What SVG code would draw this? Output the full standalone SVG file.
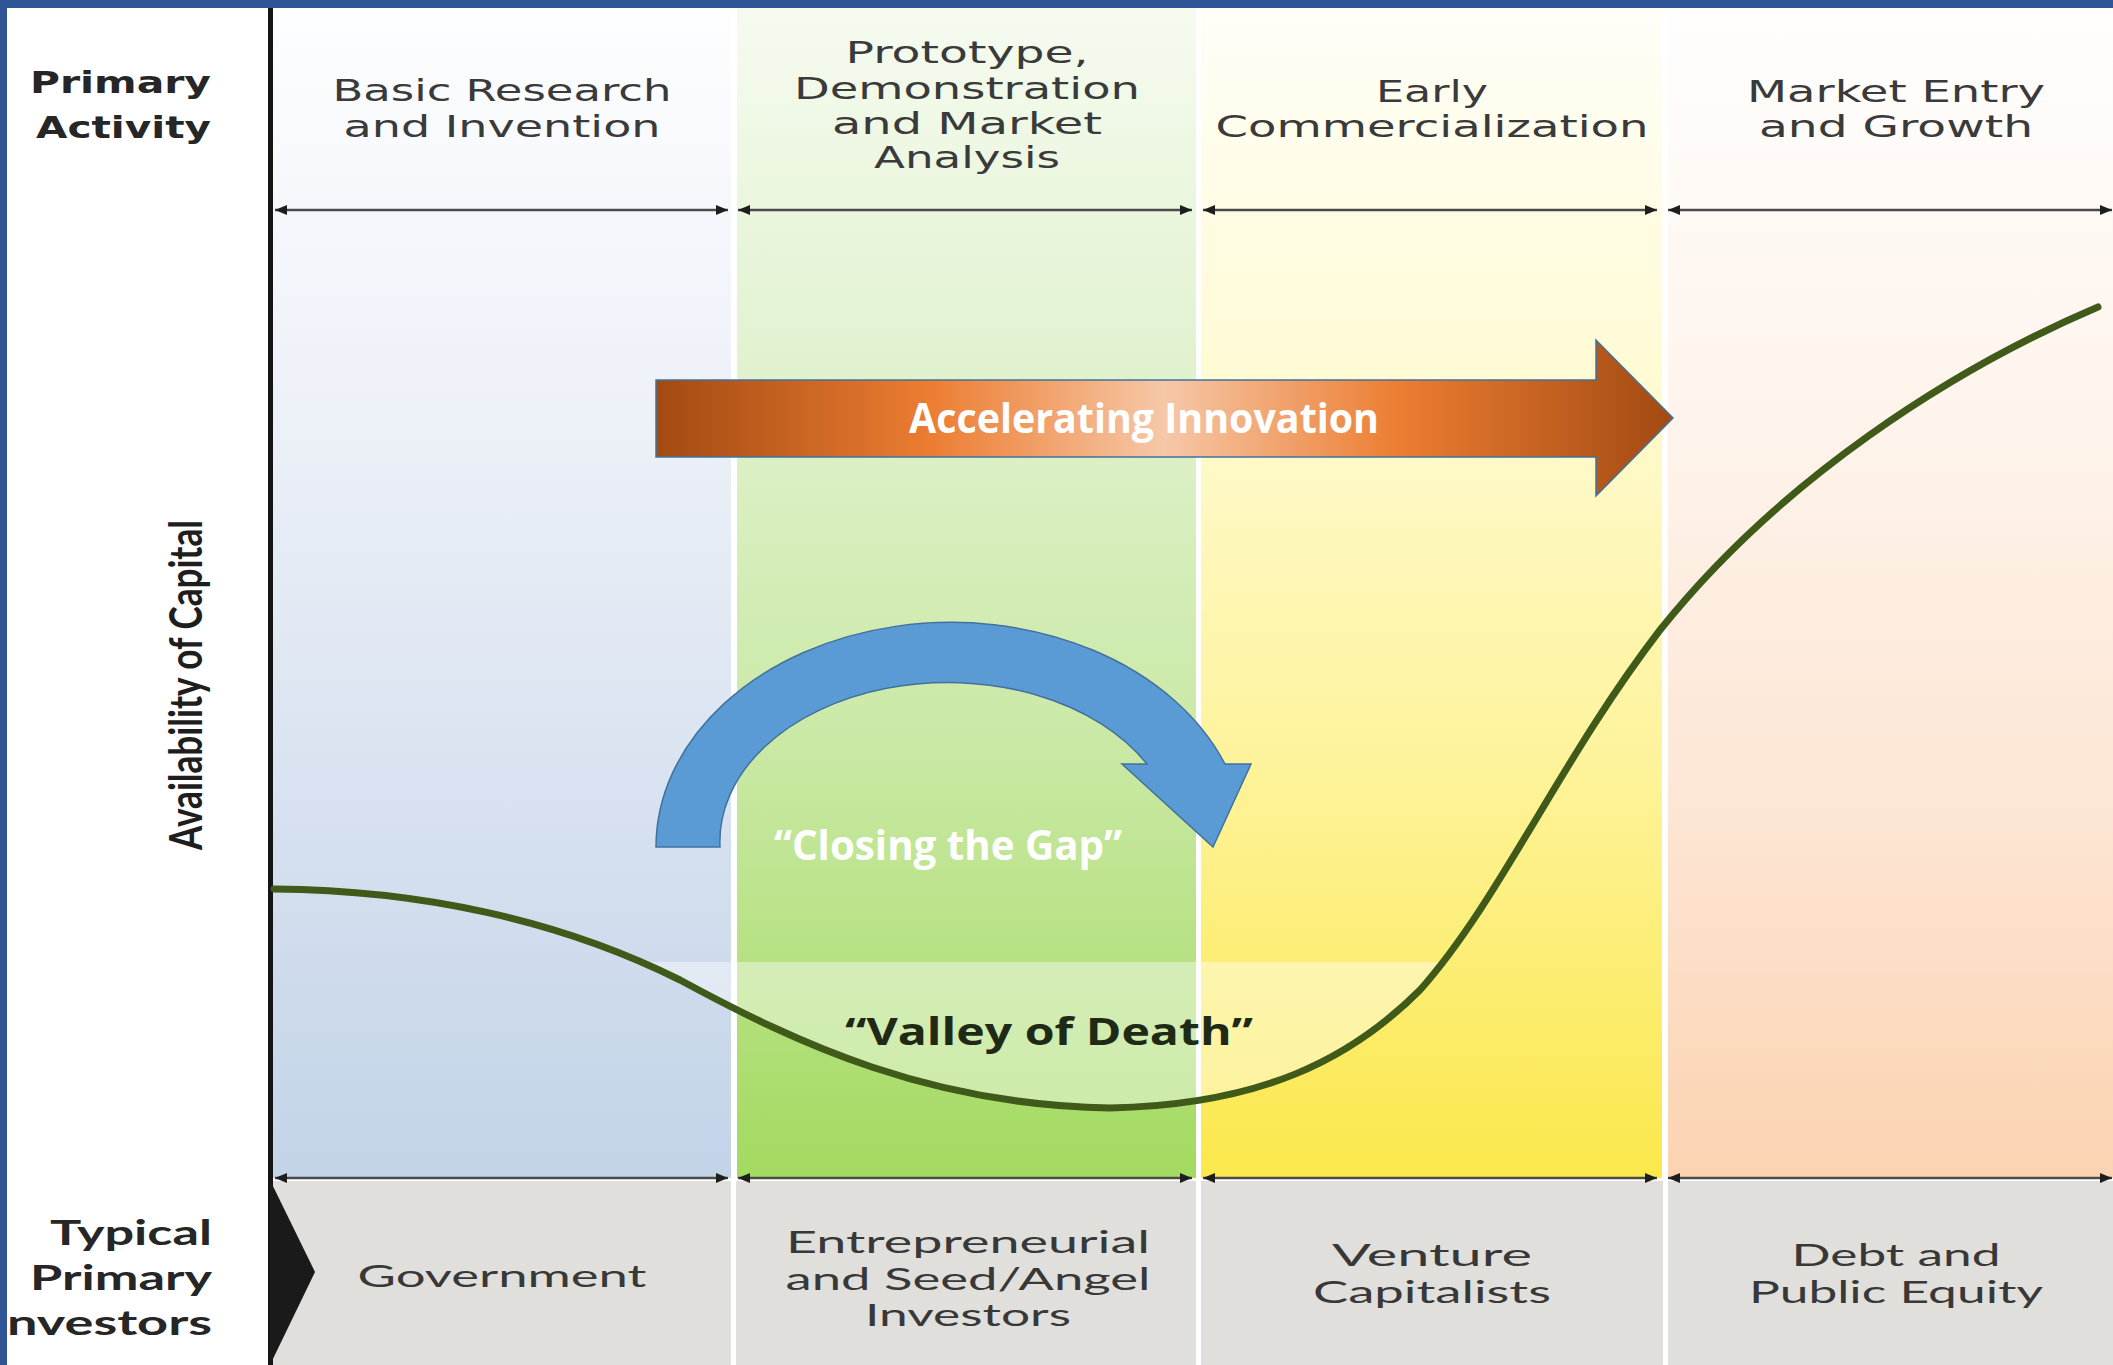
<svg xmlns="http://www.w3.org/2000/svg" width="2113" height="1365" viewBox="0 0 2113 1365">
<style>
.lbl{font-family:"DejaVu Sans",Verdana,sans-serif;font-size:31px;fill:#3a3a3a;text-anchor:middle}
.hdr{font-family:"DejaVu Sans",Verdana,sans-serif;font-weight:bold;font-size:30px;fill:#262626;text-anchor:end}
.inv{font-family:Lato,"Open Sans",sans-serif;font-size:31px;fill:#383838;text-anchor:middle}
.invh{font-family:Lato,"Open Sans",sans-serif;font-weight:bold;font-size:35px;fill:#262626;text-anchor:end}
.rng{stroke:#4a4a4a;stroke-width:2.5;fill:none;marker-start:url(#ah);marker-end:url(#ah)}
.call{font-family:"Open Sans",Lato,sans-serif;font-weight:bold;text-anchor:middle}
</style>
<defs>
<linearGradient id="gBlue" x1="0" y1="8" x2="0" y2="1176" gradientUnits="userSpaceOnUse">
<stop offset="0" stop-color="#fdfeff"/><stop offset="0.35" stop-color="#edf1f8"/><stop offset="1" stop-color="#c3d3e8"/>
</linearGradient>
<linearGradient id="gGreen" x1="0" y1="8" x2="0" y2="1176" gradientUnits="userSpaceOnUse">
<stop offset="0" stop-color="#f6fbf0"/><stop offset="0.3" stop-color="#e2f2d0"/><stop offset="0.65" stop-color="#c8e8a2"/><stop offset="1" stop-color="#a3da60"/>
</linearGradient>
<linearGradient id="gYellow" x1="0" y1="8" x2="0" y2="1176" gradientUnits="userSpaceOnUse">
<stop offset="0" stop-color="#fffef8"/><stop offset="0.3" stop-color="#fffbd6"/><stop offset="0.65" stop-color="#fef39a"/><stop offset="1" stop-color="#fbe84b"/>
</linearGradient>
<linearGradient id="gPeach" x1="0" y1="8" x2="0" y2="1176" gradientUnits="userSpaceOnUse">
<stop offset="0" stop-color="#fffefd"/><stop offset="0.35" stop-color="#fef4ec"/><stop offset="0.7" stop-color="#fde5d3"/><stop offset="1" stop-color="#fbd3b1"/>
</linearGradient>
<linearGradient id="gOrange" x1="0" y1="0" x2="1" y2="0">
<stop offset="0" stop-color="#a24a12"/><stop offset="0.27" stop-color="#ec7d32"/><stop offset="0.5" stop-color="#f6c8a8"/><stop offset="0.73" stop-color="#ec7d32"/><stop offset="1" stop-color="#a24a12"/>
</linearGradient>
<marker id="ah" viewBox="0 0 12 10" refX="12" refY="5" markerWidth="12" markerHeight="10" markerUnits="userSpaceOnUse" orient="auto-start-reverse">
<path d="M0,0 L12,5 L0,10 Z" fill="#1e1e1e"/>
</marker>
<clipPath id="aboveCurve">
<path d="M274,889 C420,890 560,920 680,980 C800,1045 930,1105 1110,1108 C1260,1105 1350,1060 1420,990 C1500,900 1560,760 1660,630 C1780,480 1950,370 2098,307 L2113,0 L274,0 Z"/>
</clipPath>
</defs>

<rect x="0" y="0" width="2113" height="1365" fill="#ffffff"/>

<g id="columns">
<rect x="273" y="8" width="458" height="1170" fill="url(#gBlue)"/>
<rect x="737" y="8" width="459" height="1170" fill="url(#gGreen)"/>
<rect x="1201" y="8" width="461" height="1170" fill="url(#gYellow)"/>
<rect x="1668" y="8" width="445" height="1170" fill="url(#gPeach)"/>
</g>

<g id="valley-band">
<rect x="273" y="962" width="1400" height="200" fill="#ffffff" fill-opacity="0.42" clip-path="url(#aboveCurve)"/>
</g>

<g id="investor-row">
<rect x="273" y="1181" width="1840" height="184" fill="#e0dfdb"/>
<rect x="731" y="1176" width="5" height="189" fill="#ffffff"/>
<rect x="1196" y="1176" width="5" height="189" fill="#ffffff"/>
<rect x="1663" y="1176" width="5" height="189" fill="#ffffff"/>
</g>

<g id="axis">
<rect x="268" y="8" width="5" height="1357" fill="#151515"/>
<polygon points="270,1180 315,1272 270,1365" fill="#1a1a1a"/>
</g>

<g id="connectors">
<line class="rng" x1="275" y1="210" x2="728" y2="210"/>
<line class="rng" x1="738" y1="210" x2="1192" y2="210"/>
<line class="rng" x1="1203" y1="210" x2="1657" y2="210"/>
<line class="rng" x1="1668" y1="210" x2="2112" y2="210"/>
<line class="rng" x1="275" y1="1178" x2="728" y2="1178"/>
<line class="rng" x1="738" y1="1178" x2="1192" y2="1178"/>
<line class="rng" x1="1203" y1="1178" x2="1657" y2="1178"/>
<line class="rng" x1="1668" y1="1178" x2="2112" y2="1178"/>
</g>

<g id="capital-curve">
<path d="M274,889 C420,890 560,920 680,980 C800,1045 930,1105 1110,1108 C1260,1105 1350,1060 1420,990 C1500,900 1560,760 1660,630 C1780,480 1950,370 2098,307" fill="none" stroke="#405a1a" stroke-width="7" stroke-linecap="round"/>
</g>

<g id="header-primary-activity">
<text class="hdr" x="211" y="93" textLength="181" lengthAdjust="spacingAndGlyphs">Primary</text>
<text class="hdr" x="211" y="138" textLength="175" lengthAdjust="spacingAndGlyphs">Activity</text>
</g>

<g id="stage-basic-research">
<text class="lbl" x="502" y="101" textLength="339" lengthAdjust="spacingAndGlyphs">Basic Research</text>
<text class="lbl" x="502" y="137" textLength="317" lengthAdjust="spacingAndGlyphs">and Invention</text>
</g>

<g id="stage-prototype">
<text class="lbl" x="967" y="63" textLength="243" lengthAdjust="spacingAndGlyphs">Prototype,</text>
<text class="lbl" x="967" y="99" textLength="346" lengthAdjust="spacingAndGlyphs">Demonstration</text>
<text class="lbl" x="967" y="134" textLength="270" lengthAdjust="spacingAndGlyphs">and Market</text>
<text class="lbl" x="967" y="168" textLength="186" lengthAdjust="spacingAndGlyphs">Analysis</text>
</g>

<g id="stage-early-commercialization">
<text class="lbl" x="1432" y="102" textLength="112" lengthAdjust="spacingAndGlyphs">Early</text>
<text class="lbl" x="1432" y="137" textLength="433" lengthAdjust="spacingAndGlyphs">Commercialization</text>
</g>

<g id="stage-market-entry">
<text class="lbl" x="1896" y="102" textLength="298" lengthAdjust="spacingAndGlyphs">Market Entry</text>
<text class="lbl" x="1896" y="137" textLength="274" lengthAdjust="spacingAndGlyphs">and Growth</text>
</g>

<g id="axis-label">
<text x="202" y="685" transform="rotate(-90 202 685)" font-family="Lato, 'Open Sans', sans-serif" font-weight="bold" font-size="46" fill="#1e1e1e" text-anchor="middle" textLength="330" lengthAdjust="spacingAndGlyphs">Availability of Capital</text>
</g>

<g id="accelerating-innovation">
<polygon points="656,380 1596,380 1596,340 1673,418 1596,496 1596,457 656,457" fill="url(#gOrange)" stroke="#41719c" stroke-width="1.5"/>
<text class="call" x="1144" y="433" font-size="42" fill="#ffffff" textLength="470" lengthAdjust="spacingAndGlyphs">Accelerating Innovation</text>
</g>

<g id="closing-the-gap">
<path d="M656,847 A295,225 0 0 1 1225,764 L1251,764 L1213,847 L1122,764 L1147,764 A228,159 0 0 0 720,847 Z" fill="#5b9bd5" stroke="#41719c" stroke-width="1.5"/>
<text class="call" x="948" y="860" font-size="42" fill="#ffffff" textLength="348" lengthAdjust="spacingAndGlyphs">“Closing the Gap”</text>
</g>

<g id="valley-of-death">
<text class="call" x="1049" y="1045" font-size="38" fill="#1f2a16" textLength="408" lengthAdjust="spacingAndGlyphs">“Valley of Death”</text>
</g>

<g id="header-investors">
<text class="invh" x="212" y="1245" textLength="162" lengthAdjust="spacingAndGlyphs">Typical</text>
<text class="invh" x="212" y="1290" textLength="182" lengthAdjust="spacingAndGlyphs">Primary</text>
<text class="invh" x="212" y="1335" textLength="205" lengthAdjust="spacingAndGlyphs">nvestors</text>
</g>

<g id="investor-government">
<text class="inv" x="502" y="1287" textLength="289" lengthAdjust="spacingAndGlyphs">Government</text>
</g>

<g id="investor-seed-angel">
<text class="inv" x="968" y="1253" textLength="364" lengthAdjust="spacingAndGlyphs">Entrepreneurial</text>
<text class="inv" x="968" y="1290" textLength="365" lengthAdjust="spacingAndGlyphs">and Seed/Angel</text>
<text class="inv" x="968" y="1326" textLength="206" lengthAdjust="spacingAndGlyphs">Investors</text>
</g>

<g id="investor-venture">
<text class="inv" x="1432" y="1266" textLength="200" lengthAdjust="spacingAndGlyphs">Venture</text>
<text class="inv" x="1432" y="1303" textLength="238" lengthAdjust="spacingAndGlyphs">Capitalists</text>
</g>

<g id="investor-debt-equity">
<text class="inv" x="1896" y="1266" textLength="209" lengthAdjust="spacingAndGlyphs">Debt and</text>
<text class="inv" x="1896" y="1303" textLength="294" lengthAdjust="spacingAndGlyphs">Public Equity</text>
</g>

<g id="frame">
<rect x="0" y="0" width="2113" height="8" fill="#2f5597"/>
<rect x="0" y="0" width="7" height="1365" fill="#2f5597"/>
</g>
</svg>
